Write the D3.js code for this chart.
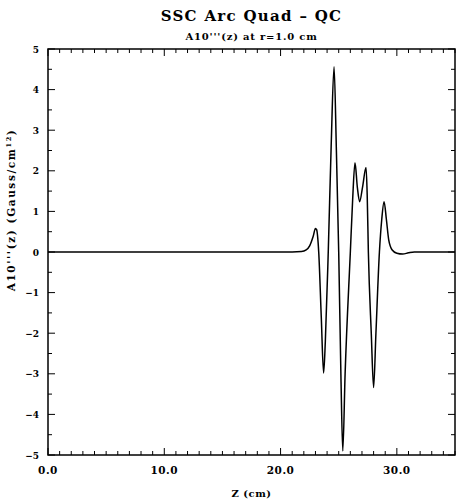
<!DOCTYPE html>
<html><head><meta charset="utf-8">
<script src="https://cdn.jsdelivr.net/npm/d3@7"></script>
<style>body{margin:0;background:#fff}svg{display:block}text{font-family:"DejaVu Serif","Liberation Serif",serif;font-weight:bold;fill:#000}</style>
</head><body>
<script>
const zValues = [0, 21, 21.8, 22.2, 22.5, 22.8, 23.0, 23.1, 23.28, 23.5, 23.7, 23.85, 24.1, 24.35, 24.6, 24.8, 25.0, 25.2, 25.35, 25.55, 26.0, 26.2, 26.4, 26.6, 26.8, 27.05, 27.35, 27.45, 27.55, 27.8, 28.0, 28.2, 28.5, 28.7, 28.9, 29.1, 29.3, 29.6, 30.0, 30.5, 31.0, 31.5, 35];
const aValues = [0, 0, 0.01, 0.05, 0.15, 0.38, 0.58, 0.55, 0, -1.6, -2.98, -2.2, 0, 2.6, 4.56, 2.5, 0, -3.2, -4.9, -3.0, 0, 1.3, 2.2, 1.6, 1.24, 1.6, 2.08, 1.4, 0, -2.0, -3.34, -2.0, 0, 0.8, 1.24, 0.8, 0.3, 0.05, -0.03, -0.05, -0.02, 0, 0];
const xTickLabels = [0, 10, 20, 30];
const yTickLabels = [-5, -4, -3, -2, -1, 0, 1, 2, 3, 4, 5];
const titleText = "SSC Arc Quad \u2013 QC";
const subtitleText = "A10'''(z) at r=1.0 cm";
const xLabel = "Z (cm)";

const W = 457, H = 502;
const m = {l: 48, r: 2, t: 49, b: 47};
const svg = d3.select("body").append("svg").attr("width", W).attr("height", H);
const x = d3.scaleLinear().domain([0, 35]).range([m.l, W - m.r]);
const y = d3.scaleLinear().domain([-5, 5]).range([H - m.b, m.t]);

const data = zValues.map((z, i) => ({z, a: aValues[i]}));

// frame
svg.append("rect").attr("x", x(0)).attr("y", y(5)).attr("width", x(35) - x(0)).attr("height", y(-5) - y(5))
  .attr("fill", "none").attr("stroke", "#000").attr("stroke-width", 1.5);

// ticks
const g = svg.append("g").attr("stroke", "#000").attr("stroke-width", 1);
d3.range(0, 36, 1).forEach(v => {
  const L = (v % 10 === 0) ? 7 : 4;
  g.append("line").attr("x1", x(v)).attr("x2", x(v)).attr("y1", y(-5)).attr("y2", y(-5) - L);
  g.append("line").attr("x1", x(v)).attr("x2", x(v)).attr("y1", y(5)).attr("y2", y(5) + L);
});
d3.range(-5, 5.01, 0.5).forEach(v => {
  const L = (Math.abs(v % 1) < 1e-9) ? 7 : 4;
  g.append("line").attr("y1", y(v)).attr("y2", y(v)).attr("x1", x(0)).attr("x2", x(0) + L);
  g.append("line").attr("y1", y(v)).attr("y2", y(v)).attr("x1", x(35)).attr("x2", x(35) - L);
});

// tick labels
svg.append("g").selectAll("text").data(xTickLabels).join("text")
  .attr("x", d => x(d)).attr("y", H - m.b + 19).attr("text-anchor", "middle")
  .attr("font-size", 10.5).attr("letter-spacing", 0.5).text(d => d3.format(".1f")(d));
svg.append("g").selectAll("text").data(yTickLabels).join("text")
  .attr("x", m.l - 9).attr("y", d => y(d) + 3.5).attr("text-anchor", "end")
  .attr("font-size", 9).text(d => d3.format("d")(d).replace("-", "\u2212"));

// curve
svg.append("path").datum(data)
  .attr("d", d3.line().x(d => x(d.z)).y(d => y(d.a)).curve(d3.curveMonotoneX))
  .attr("fill", "none").attr("stroke", "#000").attr("stroke-width", 1.5);

// titles
svg.append("text").attr("x", (x(0) + x(35)) / 2).attr("y", 21).attr("text-anchor", "middle")
  .attr("font-size", 15).attr("letter-spacing", 1.3).text(titleText);
svg.append("text").attr("x", (x(0) + x(35)) / 2).attr("y", 40).attr("text-anchor", "middle")
  .attr("font-size", 10).attr("letter-spacing", 0.8).text(subtitleText);
svg.append("text").attr("x", (x(0) + x(35)) / 2).attr("y", 497).attr("text-anchor", "middle")
  .attr("font-size", 10).attr("letter-spacing", 0.5).text(xLabel);
const yl = svg.append("text").attr("transform", "translate(15," + 210 + ") rotate(-90)")
  .attr("text-anchor", "middle").attr("font-size", 10.5).attr("letter-spacing", 1.6);
yl.append("tspan").text("A10'''(z) (Gauss/cm");
yl.append("tspan").attr("font-size", 6.5).attr("dy", -4).text("12");
yl.append("tspan").attr("dy", 4).text(")");
</script>
</body></html>
